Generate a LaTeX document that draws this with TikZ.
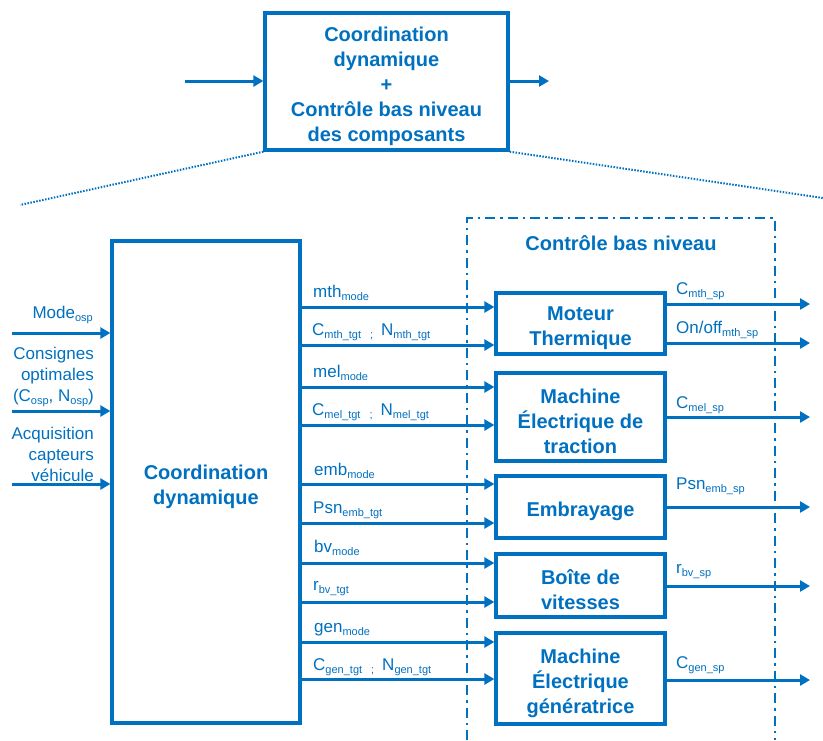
\documentclass[tikz,border=0pt]{standalone}
\usepackage{fontspec}
\setmainfont{Liberation Sans}
\usetikzlibrary{arrows.meta}
\definecolor{cblue}{RGB}{0,112,192}
\newcommand\sbs[1]{\raisebox{-3.5pt}{\fontsize{11}{11}\selectfont #1}}
\newcommand\tp{\rule{0pt}{24pt}}
\begin{document}
\begin{tikzpicture}[x=1pt,y=-1pt,
  every node/.style={text=cblue, inner sep=0pt},
  blk/.style={draw=cblue, line width=3.3pt, align=center, font=\bfseries\fontsize{20}{25}\selectfont, minimum width=169pt},
  arr/.style={draw=cblue, line width=3pt, -{Triangle[length=10pt,width=11pt]}},
  lbl/.style={font=\fontsize{17}{21}\selectfont, anchor=base west},
  lblr/.style={font=\fontsize{17}{21}\selectfont, align=right, anchor=east}]
\useasboundingbox (0,0) rectangle (823,740);

% top box
\node[blk, minimum width=243pt, minimum height=137pt] (top) at (386.5,81.5)
  {\tp Coordination\\dynamique\\+\\Contrôle bas niveau\\des composants};
\coordinate (tin) at (185,81);
\coordinate (tout) at (549,81);
\draw[arr] (tin) -- (tin -| top.west);
\draw[arr] (tout -| top.east) -- (tout);
\coordinate (dl) at (20,205);
\coordinate (dr) at (823,198);
\draw[cblue, line width=2pt, dash pattern=on 1.5pt off 1.5pt] (top.south west) -- (dl);
\draw[cblue, line width=2pt, dash pattern=on 1.5pt off 1.5pt] (top.south east) -- (dr);

% dash-dot frame
\coordinate (f1) at (467,740);
\coordinate (f2) at (467,218);
\coordinate (f3) at (775,218);
\coordinate (f4) at (775,740);
\draw[cblue, line width=2.5pt, dash pattern=on 10pt off 5pt on 2.5pt off 5pt] (f1) -- (f2) -- (f3) -- (f4);
\node[font=\bfseries\fontsize{20}{24}\selectfont] (cbn) at (621,243) {Contrôle bas niveau};

% main block
\node[blk, minimum width=188pt, minimum height=482pt] (cd) at (206,482) {\tp Coordination\\dynamique};

% component blocks
\node[blk, minimum height=61pt] (mt) at (580.5,323.5) {\tp Moteur\\Thermique};
\node[blk, minimum height=88pt] (me) at (580.5,417) {\tp Machine\\Électrique de\\traction};
\node[blk, minimum height=62pt] (em) at (580.5,507) {\tp Embrayage};
\node[blk, minimum height=63pt] (bv) at (580.5,585.5) {\tp Boîte de\\vitesses};
\node[blk, minimum height=91pt] (ge) at (580.5,678.5) {\tp Machine\\Électrique\\génératrice};

% inputs
\coordinate (i1) at (12,333);
\coordinate (i2) at (12,411);
\coordinate (i3) at (12,484);
\draw[arr] (i1) -- (i1 -| cd.west);
\draw[arr] (i2) -- (i2 -| cd.west);
\draw[arr] (i3) -- (i3 -| cd.west);
\node[lbl, anchor=base east] (lmode) at (93,318) {Mode\sbs{osp}};
\node[lblr] (lcons) at (94,377) {Consignes\\optimales\\(C\sbs{osp}, N\sbs{osp})};
\node[lblr] (lacq) at (94,454) {Acquisition\\capteurs\\véhicule};

% internal connectors
\foreach \y/\b in {307/mt,345/mt,387/me,425/me,484/em,523/em,563/bv,602/bv,642/ge,679/ge}{
  \coordinate (y\y) at (0,\y);
  \draw[arr] (cd.east |- y\y) -- (\b.west |- y\y);
}
\node[lbl] (a1) at (313,297) {mth\sbs{mode}};
\node[lbl] (a2) at (312,335) {C\sbs{mth\_tgt\hspace{9pt};}\hspace{8pt}N\sbs{mth\_tgt}};
\node[lbl] (a3) at (313,377) {mel\sbs{mode}};
\node[lbl] (a4) at (312,415) {C\sbs{mel\_tgt\hspace{9pt};}\hspace{8pt}N\sbs{mel\_tgt}};
\node[lbl] (a5) at (314,475) {emb\sbs{mode}};
\node[lbl] (a6) at (313,513) {Psn\sbs{emb\_tgt}};
\node[lbl] (a7) at (314,552) {bv\sbs{mode}};
\node[lbl] (a8) at (313,590) {r\sbs{bv\_tgt}};
\node[lbl] (a9) at (314,632) {gen\sbs{mode}};
\node[lbl] (a10) at (313,670) {C\sbs{gen\_tgt\hspace{9pt};}\hspace{8pt}N\sbs{gen\_tgt}};

% outputs
\foreach \y/\b in {304/mt,343/mt,417/me,507/em,586/bv,680/ge}{
  \coordinate (o\y) at (810,\y);
  \draw[arr] (\b.east |- o\y) -- (o\y);
}
\node[lbl] (b1) at (676,294) {C\sbs{mth\_sp}};
\node[lbl] (b2) at (676,333) {On/off\sbs{mth\_sp}};
\node[lbl] (b3) at (676,408) {C\sbs{mel\_sp}};
\node[lbl] (b4) at (676,489) {Psn\sbs{emb\_sp}};
\node[lbl] (b5) at (676,573) {r\sbs{bv\_sp}};
\node[lbl] (b6) at (676,668) {C\sbs{gen\_sp}};
\end{tikzpicture}
\end{document}
